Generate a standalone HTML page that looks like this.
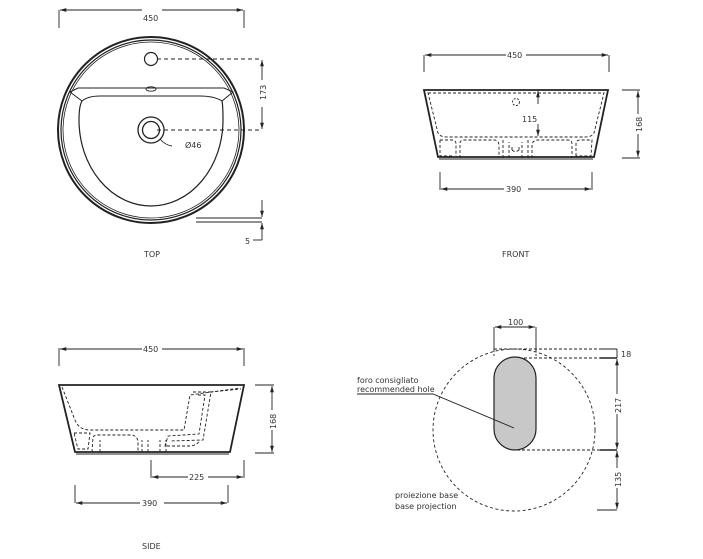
<!DOCTYPE html>
<html><head><meta charset="utf-8"><style>
html,body{margin:0;padding:0;background:#fff}
svg{display:block}
text{font-family:"DejaVu Sans","Liberation Sans",sans-serif;font-size:8px;fill:#333}
</style></head><body>
<svg width="703" height="559" viewBox="0 0 703 559" xmlns="http://www.w3.org/2000/svg">
<defs>
<marker id="a" viewBox="0 0 10 10" refX="10" refY="5" markerWidth="7" markerHeight="7" orient="auto-start-reverse"><path d="M0,2 L10,5 L0,8 z" fill="#222"/></marker>
</defs>
<g stroke="#222" fill="none" stroke-width="0.9">
<!-- TOP -->
<line x1="59" y1="10" x2="59" y2="28"/><line x1="244" y1="10" x2="244" y2="28"/>
<line x1="60" y1="10" x2="142" y2="10" marker-start="url(#a)"/><line x1="162" y1="10" x2="243" y2="10" marker-end="url(#a)"/>
<circle cx="151" cy="130" r="93" stroke-width="2"/>
<circle cx="151" cy="130" r="90" stroke-width="1.2"/>
<circle cx="151" cy="130" r="88" stroke-width="0.8"/>
<circle cx="151" cy="59" r="6.5" stroke-width="1.2"/>
<path d="M70,92 L78,88 L224,88 L233,92 L222,101 Q214,96 200,96 L100,96 Q88,96 82,101 Z" stroke-width="1"/>
<path d="M82,101 Q79,106 79,120 A72,86 0 0 0 223,120 Q223,106 222,101" stroke-width="1.2"/>
<ellipse cx="151" cy="89" rx="5" ry="2.2"/>
<circle cx="151" cy="130" r="13" stroke-width="1.3"/>
<circle cx="151" cy="130" r="8.5" stroke-width="1.3"/>
<path d="M160,139 Q165,145 172,146"/>
<line x1="157" y1="59" x2="262" y2="59" stroke-dasharray="4,3"/>
<line x1="157" y1="130" x2="262" y2="130" stroke-dasharray="4,3"/>
<line x1="262" y1="60" x2="262" y2="80" marker-start="url(#a)"/><line x1="262" y1="107" x2="262" y2="129" marker-end="url(#a)"/>
<line x1="196" y1="218" x2="262" y2="218"/><line x1="196" y1="222" x2="262" y2="222"/>
<line x1="262" y1="200" x2="262" y2="217" marker-end="url(#a)"/>
<line x1="262" y1="240" x2="262" y2="223" marker-end="url(#a)"/>
<line x1="253" y1="240" x2="262" y2="240"/>
<!-- FRONT -->
<line x1="424" y1="55" x2="424" y2="72"/><line x1="609" y1="55" x2="609" y2="72"/>
<line x1="425" y1="55" x2="506" y2="55" marker-start="url(#a)"/><line x1="526" y1="55" x2="608" y2="55" marker-end="url(#a)"/>
<path d="M424,90 L608,90 L594,157 L438,157 Z" stroke-width="1.8"/>
<line x1="439" y1="159" x2="593" y2="159"/>
<g stroke-dasharray="3,2" stroke-width="0.9">
<path d="M428,93 L604,93 L594,133 Q592,137 585,137 L447,137 Q440,137 438,133 Z"/>
<path d="M440,140 L452,140 Q456,140 456,144 L456,156 M440,140 L440,156 L452,156"/>
<path d="M460,158 L460,143 Q460,140 465,140 L494,140 Q499,140 499,146 L499,158"/>
<path d="M503,158 L503,140 M509,158 L509,142 M522,158 L522,142 M528,158 L528,140"/>
<path d="M532,158 L532,146 Q532,140 538,140 L568,140 Q572,140 572,144 L572,158"/>
<path d="M576,156 L576,144 Q576,140 580,140 L592,140 L591,156 Z"/>
<path d="M512,150 L512,147 M519,150 L519,147 M512,150 Q515.5,153 519,150"/>
</g>
<circle cx="516" cy="102" r="3.5" stroke-dasharray="2,1.5"/>
<line x1="538" y1="91" x2="538" y2="104" marker-start="url(#a)"/><line x1="538" y1="124" x2="538" y2="136" marker-end="url(#a)"/>
<line x1="622" y1="90" x2="640" y2="90"/><line x1="622" y1="158" x2="640" y2="158"/>
<line x1="638" y1="91" x2="638" y2="114" marker-start="url(#a)"/><line x1="638" y1="134" x2="638" y2="157" marker-end="url(#a)"/>
<line x1="440" y1="172" x2="440" y2="190"/><line x1="592" y1="172" x2="592" y2="190"/>
<line x1="441" y1="189" x2="504" y2="189" marker-start="url(#a)"/><line x1="528" y1="189" x2="591" y2="189" marker-end="url(#a)"/>
<!-- SIDE -->
<line x1="59" y1="348" x2="59" y2="366"/><line x1="244" y1="348" x2="244" y2="366"/>
<line x1="60" y1="349" x2="142" y2="349" marker-start="url(#a)"/><line x1="162" y1="349" x2="243" y2="349" marker-end="url(#a)"/>
<path d="M59,385 L244,385 L230,452 L75,452 Z" stroke-width="1.8"/>
<line x1="76" y1="454" x2="229" y2="454"/>
<g stroke-dasharray="3,2" stroke-width="0.9">
<path d="M62,387 L75,420 Q79,430 90,430 L184,430 L190,395 L240,388"/>
<path d="M193,392 L211,392 L203,440 L170,441"/>
<path d="M198,395 L205,395 L199,434 L168,436 L165,446 L190,446 Q198,445 200,440"/>
<path d="M210,392 L241,389"/>
<path d="M74,433 L90,433 L88,449 L78,449 Z"/>
<path d="M92,452 L93,438 Q93,435 98,435 L130,435 Q138,435 138,443 L138,452"/>
<path d="M142,452 L142,440 M148,452 L148,440 M160,452 L160,440 M166,452 L166,440"/>
<path d="M100,452 L100,440"/>
</g>
<line x1="255" y1="385" x2="274" y2="385"/><line x1="255" y1="453" x2="274" y2="453"/>
<line x1="272" y1="386" x2="272" y2="410" marker-start="url(#a)"/><line x1="272" y1="430" x2="272" y2="452" marker-end="url(#a)"/>
<line x1="151" y1="460" x2="151" y2="478"/><line x1="244" y1="460" x2="244" y2="478"/>
<line x1="152" y1="477" x2="188" y2="477" marker-start="url(#a)"/><line x1="208" y1="477" x2="243" y2="477" marker-end="url(#a)"/>
<line x1="75" y1="485" x2="75" y2="503"/><line x1="228" y1="485" x2="228" y2="503"/>
<line x1="76" y1="503" x2="140" y2="503" marker-start="url(#a)"/><line x1="164" y1="503" x2="227" y2="503" marker-end="url(#a)"/>
<!-- PLAN -->
<circle cx="514" cy="430" r="81" stroke-dasharray="3,2.5"/>
<rect x="494" y="357" width="42" height="93" rx="21" fill="#c8c8c8" stroke-width="1.2"/>
<line x1="494" y1="327" x2="494" y2="350"/><line x1="536" y1="327" x2="536" y2="350"/>
<line x1="494" y1="350" x2="494" y2="358" stroke-dasharray="2,2"/><line x1="536" y1="350" x2="536" y2="358" stroke-dasharray="2,2"/>
<line x1="495" y1="327" x2="535" y2="327" marker-start="url(#a)" marker-end="url(#a)"/>
<line x1="494" y1="349" x2="600" y2="349" stroke-dasharray="3,2"/><line x1="600" y1="349" x2="617" y2="349"/>
<line x1="524" y1="358" x2="600" y2="358" stroke-dasharray="3,2"/><line x1="600" y1="358" x2="617" y2="358" stroke-width="1.4"/>
<line x1="617" y1="349" x2="617" y2="358"/>
<line x1="617" y1="359" x2="617" y2="394" marker-start="url(#a)"/><line x1="617" y1="414" x2="617" y2="449" marker-end="url(#a)"/>
<line x1="517" y1="450" x2="600" y2="450" stroke-dasharray="3,2"/><line x1="600" y1="450" x2="617" y2="450" stroke-width="1.4"/>
<line x1="617" y1="451" x2="617" y2="468" marker-start="url(#a)"/><line x1="617" y1="488" x2="617" y2="509" marker-end="url(#a)"/>
<line x1="597" y1="510" x2="617" y2="510"/>
<polyline points="357,394 433,394 514,428"/>
</g>
<text x="143" y="21" font-size="8.5">450</text>
<text x="185" y="148">Ø46</text>
<text transform="translate(266,100) rotate(-90)" x="0" y="0">173</text>
<text x="245" y="244">5</text>
<text x="144" y="257">TOP</text>
<text x="507" y="58">450</text>
<text x="522" y="122">115</text>
<text transform="translate(642,132) rotate(-90)">168</text>
<text x="506" y="192">390</text>
<text x="502" y="257">FRONT</text>
<text x="143" y="352">450</text>
<text transform="translate(276,429) rotate(-90)">168</text>
<text x="189" y="480">225</text>
<text x="142" y="506">390</text>
<text x="142" y="549">SIDE</text>
<text x="508" y="325">100</text>
<text x="621" y="357">18</text>
<text transform="translate(621,413) rotate(-90)">217</text>
<text transform="translate(621,487) rotate(-90)">135</text>
<text x="357" y="383">foro consigliato</text>
<text x="357" y="392">recommended hole</text>
<text x="395" y="498">proiezione base</text>
<text x="395" y="509">base projection</text>
</svg>
</body></html>
